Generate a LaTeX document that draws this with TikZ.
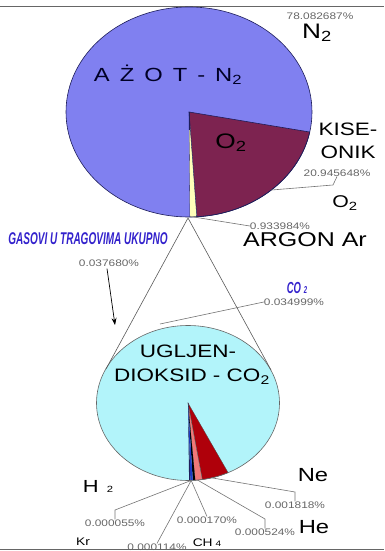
\documentclass[tikz,border=0pt]{standalone}
\usepackage{fontspec}
\setmainfont{Liberation Sans}[FakeStretch=1.25]
\newfontfamily\gasfont{Liberation Sans}[FakeStretch=0.59]
\usetikzlibrary{arrows.meta,calc}

\definecolor{azotblue}{RGB}{128,128,240}
\definecolor{kisered}{RGB}{125,35,80}
\definecolor{argonyel}{RGB}{255,255,185}
\definecolor{co2cyan}{RGB}{178,244,250}
\definecolor{neonred}{RGB}{175,0,10}
\definecolor{heliumpink}{RGB}{240,120,120}
\definecolor{kryblue}{RGB}{30,60,200}
\definecolor{rimnavy}{RGB}{30,30,90}
\definecolor{gasblue}{RGB}{51,34,204}

\tikzset{
  rim/.style={draw=rimnavy, line width=0.6pt},
  leader/.style={draw=black!55, line width=0.6pt},
  pct/.style={text=black!60, font=\fontsize{9.5}{10}\selectfont, inner sep=0pt},
  big/.style={font=\fontsize{#1}{#1}\selectfont, inner sep=0pt},
  gas/.style={text=gasblue, inner sep=0pt,
    font=\gasfont\bfseries\itshape\fontsize{#1}{#1}\selectfont}
}

\begin{document}
\begin{tikzpicture}[x=1pt, y=1pt, >={Stealth[length=7pt,width=5pt]}]
    \useasboundingbox (0,0) rectangle (384,551);

    % frame lines of the cut page
    \coordinate (tl) at (0,545);   \coordinate (tr) at (384,545);
    \coordinate (bl) at (0,2);     \coordinate (br) at (384,2);
    \draw[black!60, line width=0.8pt] (tl) -- (tr);
    \draw[black!60, line width=0.8pt] (bl) -- (br);

    % upper pie: air
    \coordinate (top) at (189,439);
    \fill[azotblue] (top) ellipse [x radius=123, y radius=105];
    \filldraw[fill=kisered, rim] (top) -- ++(-11:123 and 105)
        arc[start angle=-11, end angle=-86.4, x radius=123, y radius=105] -- cycle;
    \filldraw[fill=argonyel, draw=rimnavy, line width=0.3pt] (top) -- ++(-86.4:123 and 105)
        arc[start angle=-86.4, end angle=-89.6, x radius=123, y radius=105] -- cycle;
    \draw[rimnavy, line width=1pt] (top) -- ++(0,-18);
    \draw[rim] (top) ellipse [x radius=123, y radius=105];

    % lower pie: trace gases
    \coordinate (low) at (188,148);
    \fill[co2cyan] (low) ellipse [x radius=91.5, y radius=77.5];
    \filldraw[fill=neonred, draw=black!70, line width=0.3pt] (low) -- ++(-64:91.5 and 77.5)
        arc[start angle=-64, end angle=-81, x radius=91.5, y radius=77.5] -- cycle;
    \filldraw[fill=heliumpink, draw=black!70, line width=0.3pt] (low) -- ++(-81:91.5 and 77.5)
        arc[start angle=-81, end angle=-85.5, x radius=91.5, y radius=77.5] -- cycle;
    \fill[black] (low) -- ++(-85.5:91.5 and 77.5)
        arc[start angle=-85.5, end angle=-87, x radius=91.5, y radius=77.5] -- cycle;
    \fill[kryblue] (low) -- ++(-87:91.5 and 77.5)
        arc[start angle=-87, end angle=-88.5, x radius=91.5, y radius=77.5] -- cycle;
    \fill[rimnavy] (low) -- ++(-88.5:91.5 and 77.5)
        arc[start angle=-88.5, end angle=-89.3, x radius=91.5, y radius=77.5] -- cycle;
    \draw[draw=black!60, line width=0.6pt] (low) ellipse [x radius=91.5, y radius=77.5];

    % zoom triangle
    \coordinate (apex) at (188,333);
    \coordinate (zl) at (106,182);
    \coordinate (zr) at (271,181);
    \draw[black!65, line width=0.6pt] (zl) -- (apex) -- (zr);

    % labels of the upper pie
    \node[pct] (pN2) at (320,535) {78.082687\%};
    \node[big=21] (lN2) at (317,518) {N\textsubscript{2}};
    \node[big=19, text=black!85!blue] (azot) at (168,476)
        {A\hspace{10pt}Ż\hspace{10pt}O\hspace{10pt}T\hspace{10pt}-\hspace{10pt}N\textsubscript{2}};
    \node[big=21] (o2in) at (231,408) {O\textsubscript{2}};
    \node[big=18] (kise) at (348,422) {KISE-};
    \node[big=18] (onik) at (348,399) {ONIK};
    \node[pct] (pO2) at (337,378) {20.945648\%};
    \node[big=17] (lO2) at (345,348) {O\textsubscript{2}};
    \node[pct] (pAr) at (280,325) {0.933984\%};
    \node[big=20] (lAr) at (305,311) {ARGON Ar};

    \coordinate (o2pt) at ($(top)+(-48:123 and 105)$);
    \coordinate (o2bend) at (333,366);
    \draw[leader] (o2pt) -- (o2bend) -- (pO2.south);
    \coordinate (arpt) at ($(top)+(-88:123 and 105)$);
    \draw[leader] (arpt) -- (pAr.west);

    % trace gases in total
    \node[gas=17] (gasovi) at (88,312) {GASOVI U TRAGOVIMA UKUPNO};
    \node[pct] (pTr) at (109,288) {0.037680\%};
    \coordinate (arrtip) at (115,226);
    \draw[->, line width=0.7pt] (pTr.south) ++(-2,-2) -- (arrtip);

    % labels of the lower pie
    \node[gas=16] (lCO2) at (297,263) {CO\hspace{3pt}{\fontsize{10}{10}\selectfont 2}};
    \node[pct] (pCO2) at (294,249) {0.034999\%};
    \coordinate (co2pt) at (160,227);
    \draw[leader] (pCO2.west) -- (co2pt);
    \node[big=18] (ugl) at (188,200) {UGLJEN-};
    \node[big=18] (diok) at (192,174) {DIOKSID - CO\textsubscript{2}};

    \node[big=19] (lNe) at (313,76) {Ne};
    \node[pct] (pNe) at (295,46) {0.001818\%};
    \node[big=19] (lHe) at (314,24) {He};
    \node[pct] (pHe) at (265,19) {0.000524\%};
    \node[pct] (pCH) at (207,31) {0.000170\%};
    \node[big=11] (lCH) at (207,8) {CH\hspace{3pt}{\fontsize{8}{8}\selectfont 4}};
    \node[pct] (pKr) at (157,4) {0.000114\%};
    \node[big=11] (lKr) at (83,9) {Kr};
    \node[pct] (pH) at (115,28) {0.000055\%};
    \node[big=17.5] (lH) at (98,65) {H\hspace{8pt}{\fontsize{9}{9}\selectfont 2}};

    \coordinate (lowbot) at ($(low)+(-88:91.5 and 77.5)$);
    \coordinate (nept) at ($(low)+(-75:91.5 and 77.5)$);
    \coordinate (hept) at ($(low)+(-84:91.5 and 77.5)$);
    \coordinate (nebend) at (295,59);
    \coordinate (hebend) at (265,32);
    \coordinate (hbend) at (115,41);
    \draw[leader] (nept) -- (nebend) -- (pNe.north);
    \draw[leader] (hept) -- (hebend) -- (pHe.north);
    \draw[leader] (lowbot) -- (pCH.north);
    \draw[leader] (lowbot) -- (pKr.north);
    \draw[leader] (lowbot) -- (hbend) -- (pH.north);
\end{tikzpicture}
\end{document}
